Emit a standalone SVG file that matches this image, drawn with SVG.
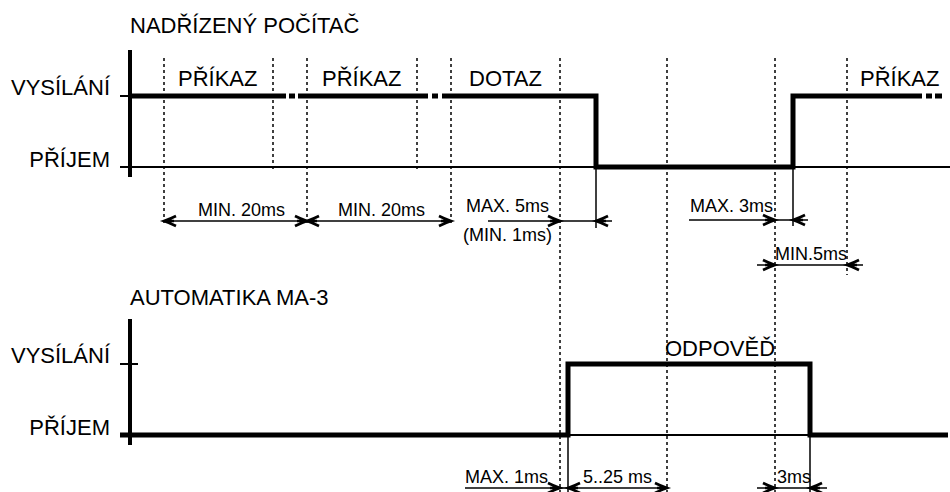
<svg xmlns="http://www.w3.org/2000/svg" width="950" height="492" viewBox="0 0 950 492">
<style>
text{font-family:"Liberation Sans",Arial,sans-serif;fill:#000}
.big{font-size:22px}
.sm{font-size:18px}
.axis{stroke:#000;stroke-width:4;fill:none}
.thick{stroke:#000;stroke-width:5;fill:none;stroke-linejoin:miter}
.thin{stroke:#000;stroke-width:2;fill:none}
.ext{stroke:#000;stroke-width:1.5;fill:none}
.dot{stroke:#000;stroke-width:1.5;stroke-dasharray:3 3;fill:none}
.dim{stroke:#000;stroke-width:1.5;fill:none}
</style>
<defs>
<marker id="ah" markerUnits="userSpaceOnUse" viewBox="-14 -7 16 14" refX="0" refY="0" markerWidth="16" markerHeight="14" orient="auto-start-reverse" overflow="visible">
<path d="M-12,-5 Q-6,-2 0,0 Q-6,2 -12,5 M-10,0 L0,0" fill="none" stroke="#000" stroke-width="2.6"/>
</marker>
</defs>
<rect width="950" height="492" fill="#fff"/>

<g id="guides">
<line class="dot" x1="164" y1="58" x2="164" y2="226"/>
<line class="dot" x1="273" y1="58" x2="273" y2="172"/>
<line class="dot" x1="307" y1="58" x2="307" y2="226"/>
<line class="dot" x1="417" y1="58" x2="417" y2="172"/>
<line class="dot" x1="451" y1="58" x2="451" y2="226"/>
<line class="dot" x1="560" y1="58" x2="560" y2="492"/>
<line class="dot" x1="667" y1="58" x2="667" y2="492"/>
<line class="dot" x1="775" y1="58" x2="775" y2="492"/>
<line class="dot" x1="847" y1="58" x2="847" y2="275"/>
</g>

<g id="master">
<text class="big" x="130" y="33">NADŘÍZENÝ POČÍTAČ</text>
<text class="big" x="110" y="95" text-anchor="end">VYSÍLÁNÍ</text>
<text class="big" x="110" y="167" text-anchor="end">PŘÍJEM</text>
<line class="axis" x1="130" y1="50" x2="130" y2="177"/>
<line class="thin" x1="120" y1="96" x2="130" y2="96"/>
<line class="thin" x1="120" y1="167" x2="950" y2="167"/>
<path class="thick" d="M130,96 H286 M289,96 H295 M298,96 H428 M432,96 H438 M442,96 H596 V167 H793 V96 H922 M926,96 H932 M935,96 H942"/>
<text class="big" x="178" y="86">PŘÍKAZ</text>
<text class="big" x="322" y="86">PŘÍKAZ</text>
<text class="big" x="469" y="86">DOTAZ</text>
<text class="big" x="860" y="86">PŘÍKAZ</text>
</g>

<g id="slave">
<text class="big" x="130" y="305">AUTOMATIKA MA-3</text>
<text class="big" x="110" y="363" text-anchor="end">VYSÍLÁNÍ</text>
<text class="big" x="110" y="435" text-anchor="end">PŘÍJEM</text>
<line class="axis" x1="130" y1="319" x2="130" y2="445"/>
<line class="thin" x1="120" y1="364" x2="138" y2="364"/>
<line class="thin" x1="120" y1="435" x2="948" y2="435"/>
<path class="thick" d="M120,435 H568 V364 H810 V435 H948"/>
<text class="big" x="665" y="356">ODPOVĚĎ</text>
</g>

<g id="connectors">
<line class="ext" x1="596" y1="167" x2="596" y2="228"/>
<line class="ext" x1="793" y1="167" x2="793" y2="226"/>
<line class="ext" x1="568" y1="435" x2="568" y2="492"/>
<line class="ext" x1="810" y1="435" x2="810" y2="492"/>

<line class="dim" x1="164" y1="221" x2="307" y2="221" marker-start="url(#ah)" marker-end="url(#ah)"/>
<line class="dim" x1="307" y1="221" x2="451" y2="221" marker-start="url(#ah)" marker-end="url(#ah)"/>
<line class="dim" x1="488" y1="221" x2="560" y2="221" marker-end="url(#ah)"/>
<line class="dim" x1="560" y1="221" x2="596" y2="221"/>
<line class="dim" x1="612" y1="221" x2="596" y2="221" marker-end="url(#ah)"/>
<line class="dim" x1="689" y1="220" x2="775" y2="220" marker-end="url(#ah)"/>
<line class="dim" x1="775" y1="220" x2="793" y2="220"/>
<line class="dim" x1="808" y1="220" x2="793" y2="220" marker-end="url(#ah)"/>
<line class="dim" x1="757" y1="265" x2="775" y2="265" marker-end="url(#ah)"/>
<line class="dim" x1="775" y1="265" x2="847" y2="265"/>
<line class="dim" x1="863" y1="265" x2="847" y2="265" marker-end="url(#ah)"/>

<line class="dim" x1="465" y1="488" x2="560" y2="488" marker-end="url(#ah)"/>
<line class="dim" x1="560" y1="488" x2="568" y2="488"/>
<line class="dim" x1="568" y1="488" x2="667" y2="488" marker-start="url(#ah)" marker-end="url(#ah)"/>
<line class="dim" x1="757" y1="488" x2="775" y2="488" marker-end="url(#ah)"/>
<line class="dim" x1="775" y1="488" x2="810" y2="488"/>
<line class="dim" x1="827" y1="488" x2="810" y2="488" marker-end="url(#ah)"/>

<text class="sm" x="198" y="216">MIN. 20ms</text>
<text class="sm" x="338" y="216">MIN. 20ms</text>
<text class="sm" x="466" y="212">MAX. 5ms</text>
<text class="sm" x="463" y="241">(MIN. 1ms)</text>
<text class="sm" x="690" y="212">MAX. 3ms</text>
<text class="sm" x="775" y="260">MIN.5ms</text>
<text class="sm" x="465" y="483">MAX. 1ms</text>
<text class="sm" x="583" y="483">5..25 ms</text>
<text class="sm" x="777" y="483">3ms</text>
</g>
</svg>
